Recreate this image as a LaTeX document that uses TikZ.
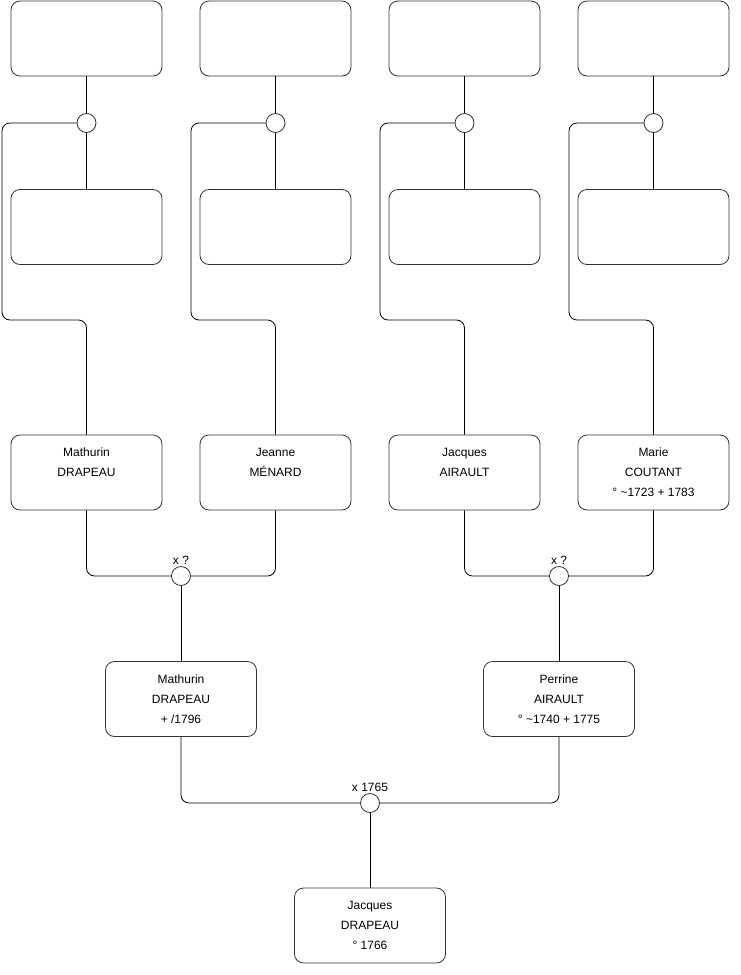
\documentclass[tikz,border=0pt]{standalone}
\usepackage{fontspec}
\setmainfont{Liberation Sans}
\begin{document}
\begin{tikzpicture}[x=1pt,y=-1pt,
  person/.style={draw=black!80,line width=0.8pt,rounded corners=9pt,minimum width=151pt,minimum height=75pt,align=center,font=\fontsize{12}{20}\selectfont},
  union/.style={draw=black!80,line width=0.8pt,circle,minimum size=19pt,inner sep=0pt,fill=white},
  link/.style={line width=0.8pt,rounded corners=8pt},
  lbl/.style={label={[font=\fontsize{12}{14}\selectfont,inner sep=1pt]above:#1}}]
\useasboundingbox (0,0) rectangle (740,975);
% great-grandparents
\foreach \i/\x in {1/86.5,2/275.5,3/464.5,4/653.5}{
  \node[person] (a\i) at (\x,38.5) {};
  \node[person] (b\i) at (\x,227) {};
  \node[union] (u\i) at (\x,123) {};
  \draw[link] (a\i) -- (u\i) -- (b\i);
}
% grandparents
\node[person] (p1) at (86.5,472.5) {Mathurin\\DRAPEAU\\\mbox{}};
\node[person] (p2) at (275.5,472.5) {Jeanne\\MÉNARD\\\mbox{}};
\node[person] (p3) at (464.5,472.5) {Jacques\\AIRAULT\\\mbox{}};
\node[person] (p4) at (653.5,472.5) {Marie\\COUTANT\\° \textasciitilde1723 + 1783};
\foreach \i in {1,2,3,4}
  \draw[link] (u\i.west) -| (\i*189-187,320) -| (p\i.north);
\node[union,lbl={x ?}] (v1) at (181,576) {};
\node[union,lbl={x ?}] (v2) at (559,576) {};
\draw[link] (p1.south) |- (v1.west);
\draw[link] (p2.south) |- (v1.east);
\draw[link] (p3.south) |- (v2.west);
\draw[link] (p4.south) |- (v2.east);
% parents
\node[person] (m1) at (181,699) {Mathurin\\DRAPEAU\\+ /1796};
\node[person] (m2) at (559,699) {Perrine\\AIRAULT\\° \textasciitilde1740 + 1775};
\draw[link] (v1) -- (m1);
\draw[link] (v2) -- (m2);
\node[union,lbl={x 1765}] (w) at (370,803) {};
\draw[link] (m1.south) |- (w.west);
\draw[link] (m2.south) |- (w.east);
% subject
\node[person] (s) at (370,925.5) {Jacques\\DRAPEAU\\° 1766};
\draw[link] (w) -- (s);
\end{tikzpicture}
\end{document}
